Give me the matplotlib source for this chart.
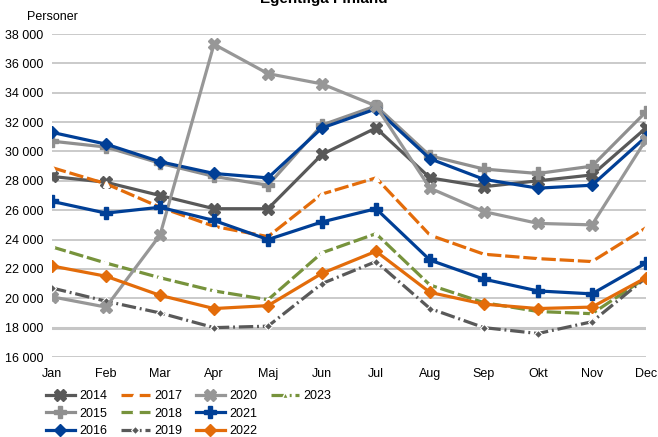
import matplotlib
matplotlib.use("Agg")
import matplotlib.pyplot as plt
from matplotlib.lines import Line2D
import numpy as np

plt.rcParams['font.family'] = ['Liberation Sans', 'DejaVu Sans']

months = ["Jan", "Feb", "Mar", "Apr", "Maj", "Jun", "Jul", "Aug", "Sep", "Okt", "Nov", "Dec"]

y2014 = [28300, 27900, 27000, 26100, 26100, 29800, 31600, 28200, 27600, 28000, 28400, 31600]
y2015 = [30700, 30300, 29200, 28300, 27700, 31800, 33100, 29700, 28800, 28500, 29000, 32700]
y2016 = [31300, 30500, 29300, 28500, 28200, 31600, 32900, 29500, 28100, 27500, 27700, 31000]
y2017 = [28900, 27800, 26200, 24900, 24200, 27100, 28200, 24300, 23000, 22700, 22500, 24800]
y2018 = [23500, 22400, 21400, 20500, 19900, 23100, 24400, 20900, 19700, 19100, 18950, 21400]
y2019 = [20700, 19800, 19000, 18000, 18100, 21000, 22500, 19300, 18000, 17600, 18400, 21400]
y2020 = [20100, 19400, 24300, 37300, 35300, 34600, 33100, 27500, 25900, 25100, 25000, 30800]
y2021 = [26600, 25800, 26200, 25300, 24000, 25200, 26100, 22600, 21300, 20500, 20300, 22400]
y2022 = [22200, 21500, 20200, 19300, 19500, 21700, 23200, 20400, 19600, 19300, 19400, 21400]
y2023 = [np.nan] * 12

yticks = [16000, 18000, 20000, 22000, 24000, 26000, 28000, 30000, 32000, 34000, 36000, 38000]
ytick_labels = ["16 000", "18 000", "20 000", "22 000", "24 000", "26 000", "28 000",
                "30 000", "32 000", "34 000", "36 000", "38 000"]

dgray = "#595959"
lgray = "#8f8f8f"
gray20 = "#979797"
blue = "#003f96"
orange = "#e36c0a"
green = "#77933c"

fig = plt.figure(figsize=(6.58, 4.37), dpi=100)
ax = fig.add_axes([52/658, 80/437, (646-52)/658, (357-34)/437])

x = np.arange(12)
lw = 2.3
series = [
    ("2014", y2014, dict(color=dgray, ls='-', marker='X', ms=8, mec=dgray, mfc=dgray)),
    ("2015", y2015, dict(color=lgray, ls='-', marker='P', ms=8, mec=lgray, mfc=lgray)),
    ("2016", y2016, dict(color=blue, ls='-', marker='D', ms=6, mec=blue, mfc=blue)),
    ("2017", y2017, dict(color=orange, ls=(0, (4.5, 1.2)), marker='^', ms=4, mec='white', mfc='white')),
    ("2018", y2018, dict(color=green, ls=(0, (4.5, 1.2)), marker='o', ms=3, mec='white', mfc='white')),
    ("2019", y2019, dict(color=dgray, ls=(0, (4.5, 1.2, 0.6, 1.2)), marker='D', ms=4, mec='white', mfc=dgray, mew=0.8)),
    ("2020", y2020, dict(color=gray20, ls='-', marker='X', ms=8, mec=gray20, mfc=gray20)),
    ("2021", y2021, dict(color=blue, ls='-', marker='P', ms=8, mec=blue, mfc=blue)),
    ("2022", y2022, dict(color=orange, ls='-', marker='D', ms=6, mec=orange, mfc=orange)),
    ("2023", y2023, dict(color=green, ls=(0, (4.5, 1.2, 0.6, 1.2)), marker='^', ms=4, mec='white', mfc=green)),
]

handles, labels = [], []
for label, vals, st in series:
    h, = ax.plot(x, vals, lw=lw, label=label, solid_joinstyle='round', **st)
    handles.append(h)
    labels.append(label)

# two blank slots so the legend columns hold 3, 3, 3 and 1 entries
blank = Line2D([], [], color='none')
handles += [blank, blank]
labels += ["", ""]

ax.set_xlim(0, 11)
ax.set_ylim(16000, 38000)
ax.set_yticks(yticks)
ax.set_yticklabels(ytick_labels)
ax.set_xticks(x)
ax.set_xticklabels(months)
ax.tick_params(axis='both', length=0, labelsize=9, colors='black')
ax.tick_params(axis='y', pad=6)
ax.tick_params(axis='x', pad=8)
for s in ax.spines.values():
    s.set_visible(False)
ax.set_axisbelow(True)
for yv in yticks:
    lwg = 2.2 if yv == 18000 else 1.3
    ax.axhline(yv, color="#c6c6c6", lw=lwg, zorder=0)

fig.text(27/658, 1 - 17/437, "Personer", fontsize=9, va='center', ha='left')
fig.text(324/658, 1 - 3/437, "Egentliga Finland", fontsize=11, fontweight='bold',
         va='baseline', ha='center')

leg = fig.legend(handles, labels, loc='upper left', bbox_to_anchor=(46/658, 1 - 390/437), ncol=4,
                 frameon=False, fontsize=9, handlelength=2.3, handletextpad=0.35,
                 columnspacing=1.1, labelspacing=0.45, borderpad=0, borderaxespad=0,
                 numpoints=1)

fig.savefig("out.png", dpi=100)
